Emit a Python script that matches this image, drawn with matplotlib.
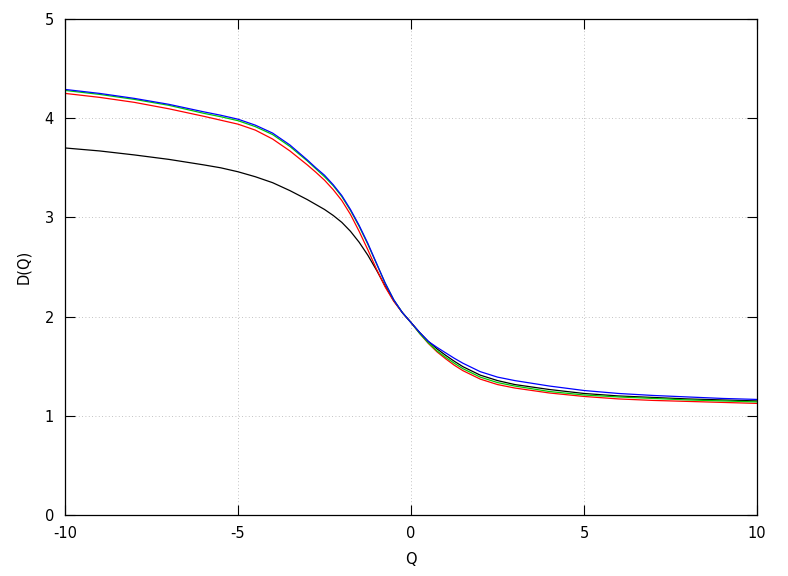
import matplotlib
matplotlib.use("Agg")
import matplotlib.pyplot as plt

q = [-10, -9, -8, -7, -6, -5.5, -5, -4.5, -4, -3.5, -3, -2.75, -2.5, -2.25, -2,
     -1.75, -1.5, -1.25, -1, -0.75, -0.5, -0.25, 0, 0.25, 0.5, 0.75, 1, 1.25,
     1.5, 2, 2.5, 3, 4, 5, 6, 7, 8, 9, 10]

d_black = [3.70, 3.67, 3.63, 3.585, 3.53, 3.50, 3.46, 3.41, 3.35, 3.27, 3.18, 3.13, 3.08, 3.02, 2.95,
           2.86, 2.75, 2.62, 2.47, 2.31, 2.16, 2.04, 1.94, 1.84, 1.75, 1.675, 1.61, 1.55,
           1.495, 1.41, 1.355, 1.315, 1.265, 1.225, 1.20, 1.185, 1.17, 1.16, 1.15]
d_red = [4.25, 4.21, 4.16, 4.095, 4.02, 3.98, 3.94, 3.88, 3.79, 3.67, 3.53, 3.455, 3.375, 3.28, 3.17,
         3.03, 2.86, 2.675, 2.48, 2.30, 2.155, 2.04, 1.94, 1.83, 1.73, 1.645, 1.575, 1.51,
         1.455, 1.37, 1.315, 1.28, 1.23, 1.195, 1.17, 1.155, 1.145, 1.135, 1.125]
d_green = [4.28, 4.24, 4.19, 4.13, 4.05, 4.015, 3.975, 3.915, 3.835, 3.715, 3.57, 3.49, 3.41, 3.32, 3.21,
           3.07, 2.91, 2.73, 2.535, 2.34, 2.17, 2.04, 1.94, 1.83, 1.735, 1.655, 1.59, 1.53,
           1.475, 1.39, 1.335, 1.30, 1.245, 1.21, 1.19, 1.175, 1.16, 1.15, 1.14]
d_blue = [4.29, 4.25, 4.20, 4.14, 4.065, 4.03, 3.99, 3.93, 3.85, 3.73, 3.58, 3.50, 3.425, 3.33, 3.22,
          3.08, 2.92, 2.74, 2.54, 2.34, 2.17, 2.04, 1.94, 1.84, 1.75, 1.69, 1.635, 1.58,
          1.53, 1.445, 1.39, 1.355, 1.30, 1.255, 1.225, 1.205, 1.19, 1.175, 1.165]

x_ticks = [-10, -5, 0, 5, 10]
y_ticks = [0, 1, 2, 3, 4, 5]

plt.rcParams["axes.unicode_minus"] = False

fig = plt.figure(figsize=(7.88, 5.76), dpi=100)
ax = fig.add_axes([0.0825, 0.1059, 0.8782, 0.8611])

# gnuplot-like dotted grid
ax.grid(True, linestyle=(0, (1, 3)), color="#b0b0b0", linewidth=0.6)
ax.set_axisbelow(True)

ax.plot(q, d_black, color="black", linewidth=0.9)
ax.plot(q, d_red, color="#ff0000", linewidth=0.9)
ax.plot(q, d_green, color="#00cc00", linewidth=0.9)
ax.plot(q, d_blue, color="#0000ff", linewidth=0.9)

ax.set_xlim(-10, 10)
ax.set_ylim(0, 5)
ax.set_xticks(x_ticks)
ax.set_yticks(y_ticks)
ax.tick_params(direction="in", length=7, width=0.8, top=True, right=True,
               labelsize=10.5, pad=8)
for s in ax.spines.values():
    s.set_linewidth(0.9)

ax.set_xlabel("Q", fontsize=10.5, labelpad=8)
ax.set_ylabel("D(Q)", fontsize=10.5, labelpad=10)

fig.savefig("out.png", dpi=100)
